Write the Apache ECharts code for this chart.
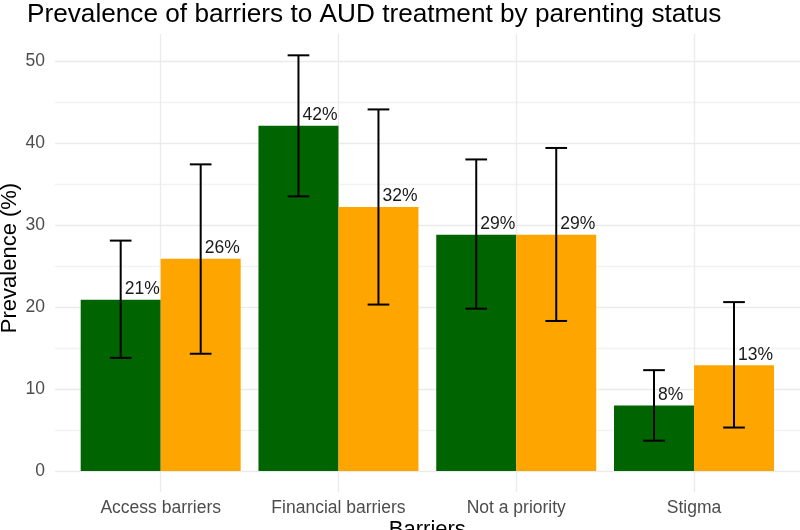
<!DOCTYPE html>
<html><head><meta charset="utf-8">
<script src="https://cdn.jsdelivr.net/npm/echarts@6/dist/echarts.min.js"></script>
<style>html,body{margin:0;padding:0;background:#fff}#c{width:800px;height:530px}</style>
</head><body><div id="c"></div>
<script>
const categories = ['Access barriers', 'Financial barriers', 'Not a priority', 'Stigma'];
const seriesNames = ['Non-parents', 'Parents'];
const greenValues = [20.9, 42.1, 28.8, 8.0];
const greenLower = [13.8, 33.5, 19.8, 3.7];
const greenUpper = [28.1, 50.7, 38.0, 12.3];
const orangeValues = [25.9, 32.2, 28.8, 12.9];
const orangeLower = [14.3, 20.3, 18.3, 5.3];
const orangeUpper = [37.4, 44.1, 39.4, 20.6];
const yTicks = [0, 10, 20, 30, 40, 50];

const FONT = 'Liberation Sans, Arial, sans-serif';
const GREEN = '#006400', ORANGE = '#FFA500';
const MAJ = '#EBEBEB', MIN = '#F2F2F2';

const errData = [];
categories.forEach((c, i) => {
  errData.push([i, greenLower[i], greenUpper[i], -1]);
  errData.push([i, orangeLower[i], orangeUpper[i], 1]);
});

const labelCfg = {
  show: true, position: ['50%', -10.5], align: 'left', verticalAlign: 'middle',
  offset: [4, 0], fontSize: 17.5, fontFamily: FONT, color: '#1a1a1a',
  formatter: p => Math.round(p.value) + '%'
};

const chart = echarts.init(document.getElementById('c'), null, {renderer: 'canvas'});
chart.setOption({
  animation: false,
  backgroundColor: '#fff',
  title: {
    text: 'Prevalence of barriers to AUD treatment by parenting status',
    left: 27, top: 2, padding: 0,
    textStyle: {fontSize: 26.2, fontWeight: 'normal', color: '#000', fontFamily: FONT}
  },
  grid: [
    {left: 55, right: 0, top: 34, bottom: 59, outerBoundsMode: 'none', containLabel: false},
    {left: 71.8, right: 17.1, top: 34, bottom: 59, outerBoundsMode: 'none', containLabel: false}
  ],
  xAxis: [
    {gridIndex: 0, type: 'category', data: categories, show: false},
    {
      gridIndex: 1, type: 'category', data: categories,
      name: 'Barriers', nameLocation: 'middle', nameGap: 48, nameMoveOverlap: false,
      nameTextStyle: {fontSize: 22, color: '#000', fontFamily: FONT},
      axisLine: {show: false},
      axisTick: {show: true, alignWithLabel: true, length: 21, lineStyle: {color: MAJ, width: 1.3}},
      axisLabel: {margin: 28, fontSize: 17.5, color: '#4D4D4D', fontFamily: FONT},
      splitLine: {show: true, alignWithLabel: true, lineStyle: {color: MAJ, width: 1.3}}
    }
  ],
  yAxis: [
    {
      gridIndex: 0, type: 'value', min: 0, max: 53.3, interval: 5,
      name: 'Prevalence (%)', nameLocation: 'middle', nameGap: 34, nameMoveOverlap: false,
      nameTextStyle: {fontSize: 22, color: '#000', fontFamily: FONT, padding: [0, 11, 0, 0]},
      axisLine: {show: false}, axisTick: {show: false},
      axisLabel: {
        margin: 10, fontSize: 17.5, color: '#4D4D4D', fontFamily: FONT,
        formatter: v => (yTicks.indexOf(v) >= 0 ? String(v) : '')
      },
      splitLine: {show: true, lineStyle: {width: 1.3,
        color: [MAJ, MIN, MAJ, MIN, MAJ, MIN, MAJ, MIN, MAJ, MIN, MAJ, 'rgba(0,0,0,0)']}}
    },
    {gridIndex: 1, type: 'value', min: 0, max: 53.3, interval: 5, show: false}
  ],
  series: [
    {
      name: seriesNames[0], type: 'bar', xAxisIndex: 1, yAxisIndex: 1,
      data: greenValues, barGap: '0%', barCategoryGap: '10%',
      itemStyle: {color: GREEN}, label: labelCfg, z: 2
    },
    {
      name: seriesNames[1], type: 'bar', xAxisIndex: 1, yAxisIndex: 1,
      data: orangeValues, barGap: '0%', barCategoryGap: '10%',
      itemStyle: {color: ORANGE}, label: labelCfg, z: 2
    },
    {
      type: 'custom', xAxisIndex: 1, yAxisIndex: 1, z: 3,
      data: errData, encode: {x: 0, y: [1, 2]},
      renderItem: (params, api) => {
        const ci = api.value(0), lo = api.value(1), hi = api.value(2), side = api.value(3);
        const band = api.size([1, 0])[0];
        const cx = api.coord([ci, 0])[0] + side * band * 0.225;
        const yHi = api.coord([ci, hi])[1], yLo = api.coord([ci, lo])[1];
        const hw = band * 0.061;
        const st = {stroke: '#000', lineWidth: 2};
        return {type: 'group', children: [
          {type: 'line', shape: {x1: cx, y1: yHi, x2: cx, y2: yLo}, style: st},
          {type: 'line', shape: {x1: cx - hw, y1: yHi, x2: cx + hw, y2: yHi}, style: st},
          {type: 'line', shape: {x1: cx - hw, y1: yLo, x2: cx + hw, y2: yLo}, style: st}
        ]};
      }
    }
  ]
});
</script>
</body></html>
